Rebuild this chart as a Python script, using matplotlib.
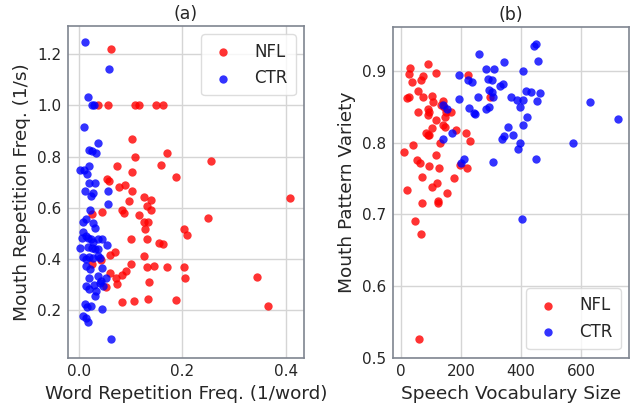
import matplotlib
matplotlib.use("Agg")
import matplotlib.pyplot as plt

# ---------------- data ----------------
# (a) Word repetition freq vs mouth repetition freq
a_nfl_x = [0.062, 0.037, 0.057, 0.108, 0.117, 0.149, 0.162, 0.102, 0.108, 0.170, 0.255, 0.073, 0.159,
           0.102, 0.188, 0.055, 0.059, 0.078, 0.090, 0.102, 0.126, 0.139, 0.097, 0.408, 0.132, 0.139,
           0.083, 0.088, 0.045, 0.026, 0.116, 0.250, 0.126, 0.134, 0.128, 0.203, 0.209, 0.100, 0.132,
           0.155, 0.163, 0.070, 0.061, 0.126, 0.043, 0.025, 0.100, 0.131, 0.146, 0.170, 0.204, 0.092,
           0.083, 0.061, 0.072, 0.206, 0.344, 0.074, 0.053, 0.135, 0.084, 0.106, 0.134, 0.188, 0.366]
a_nfl_y = [1.219, 1.0, 1.0, 1.0, 1.0, 1.0, 1.0, 0.868, 0.799, 0.813, 0.783, 0.764, 0.768,
           0.742, 0.721, 0.714, 0.705, 0.683, 0.688, 0.666, 0.643, 0.631, 0.625, 0.638, 0.607, 0.592,
           0.592, 0.582, 0.585, 0.575, 0.571, 0.562, 0.543, 0.545, 0.516, 0.516, 0.493, 0.477, 0.477,
           0.462, 0.458, 0.428, 0.416, 0.412, 0.397, 0.380, 0.380, 0.371, 0.373, 0.371, 0.371, 0.352,
           0.337, 0.347, 0.326, 0.325, 0.332, 0.302, 0.293, 0.312, 0.234, 0.236, 0.243, 0.240, 0.217]

a_ctr_x = [0.012, 0.059, 0.017, 0.025, 0.029, 0.010, 0.037, 0.020, 0.025, 0.034, 0.020, 0.003, 0.010,
           0.016, 0.020, 0.031, 0.012, 0.028, 0.023, 0.057, 0.056, 0.021, 0.008, 0.014, 0.028, 0.031,
           0.008, 0.014, 0.007, 0.018, 0.028, 0.044, 0.024, 0.036, 0.002, 0.018, 0.031, 0.055, 0.025,
           0.036, 0.008, 0.020, 0.037, 0.040, 0.014, 0.028, 0.013, 0.022, 0.045, 0.020, 0.037, 0.052,
           0.042, 0.014, 0.030, 0.040, 0.046, 0.020, 0.034, 0.032, 0.011, 0.024, 0.044, 0.016, 0.008,
           0.014, 0.018, 0.062]
a_ctr_y = [1.248, 1.141, 1.033, 1.0, 1.0, 0.916, 0.855, 0.825, 0.822, 0.816, 0.764, 0.747, 0.747,
           0.734, 0.699, 0.699, 0.666, 0.660, 0.647, 0.665, 0.617, 0.592, 0.546, 0.555, 0.540, 0.520,
           0.507, 0.490, 0.481, 0.484, 0.468, 0.477, 0.477, 0.477, 0.442, 0.447, 0.438, 0.454, 0.445,
           0.440, 0.410, 0.410, 0.412, 0.405, 0.400, 0.405, 0.373, 0.363, 0.367, 0.328, 0.334, 0.328,
           0.314, 0.295, 0.298, 0.305, 0.296, 0.282, 0.275, 0.256, 0.223, 0.217, 0.204, 0.214, 0.178,
           0.171, 0.154, 0.087]

# (b) Speech vocabulary size vs mouth pattern variety
b_nfl_x = [89, 30, 27, 74, 66, 115, 38, 224, 56, 27, 21, 74, 104, 108, 141, 132, 297, 58, 91, 94, 89,
           144, 150, 167, 147, 117, 141, 147, 102, 183, 82, 91, 94, 215, 230, 130, 41, 10, 52, 63, 115,
           94, 125, 197, 219, 69, 178, 119, 102, 19, 154, 71, 122, 124, 48, 65, 61]
b_nfl_y = [0.910, 0.904, 0.896, 0.893, 0.888, 0.897, 0.885, 0.894, 0.872, 0.864, 0.862, 0.864, 0.865,
           0.857, 0.858, 0.852, 0.863, 0.842, 0.847, 0.842, 0.838, 0.849, 0.842, 0.842, 0.835, 0.832,
           0.825, 0.822, 0.820, 0.818, 0.813, 0.811, 0.810, 0.813, 0.802, 0.800, 0.796, 0.787, 0.776,
           0.772, 0.782, 0.767, 0.764, 0.769, 0.764, 0.752, 0.751, 0.744, 0.738, 0.734, 0.729, 0.716,
           0.718, 0.715, 0.690, 0.673, 0.526]

b_ctr_x = [449, 443, 259, 455, 343, 283, 311, 408, 194, 224, 238, 289, 302, 330, 341, 292, 302, 415,
           433, 464, 255, 194, 305, 365, 388, 408, 397, 452, 630, 141, 154, 227, 283, 294, 243, 247,
           419, 722, 408, 355, 169, 336, 344, 372, 139, 397, 391, 572, 210, 200, 305, 450, 402]
b_ctr_y = [0.937, 0.935, 0.923, 0.914, 0.912, 0.903, 0.902, 0.900, 0.894, 0.888, 0.885, 0.889, 0.888,
           0.879, 0.882, 0.874, 0.871, 0.872, 0.871, 0.869, 0.864, 0.861, 0.864, 0.864, 0.859, 0.860,
           0.850, 0.858, 0.856, 0.853, 0.847, 0.848, 0.847, 0.850, 0.841, 0.840, 0.835, 0.833, 0.825,
           0.822, 0.813, 0.805, 0.809, 0.810, 0.805, 0.800, 0.791, 0.800, 0.777, 0.771, 0.773, 0.777,
           0.694]

a_xticks = [0.0, 0.2, 0.4]
a_yticks = [0.2, 0.4, 0.6, 0.8, 1.0, 1.2]
b_xticks = [0, 200, 400, 600]
b_yticks = [0.5, 0.6, 0.7, 0.8, 0.9]

# ---------------- style ----------------
TXT = "#262626"
plt.rcParams.update({
    "font.family": "DejaVu Sans",
    "text.color": TXT,
    "axes.labelcolor": TXT,
    "xtick.color": TXT,
    "ytick.color": TXT,
})

fig = plt.figure(figsize=(6.35, 4.07), dpi=100)
W, H = 635.0, 407.0
axa = fig.add_axes([68 / W, 1 - 357.5 / H, 236 / W, 331.5 / H])
axb = fig.add_axes([393 / W, 1 - 357.5 / H, 236 / W, 331 / H])

RED = (1.0, 0.0, 0.0)
BLUE = (0.0, 0.0, 1.0)

def style(ax):
    ax.set_facecolor("white")
    ax.grid(True, color="#d5d5d5", linewidth=1.0)
    ax.set_axisbelow(True)
    for s in ax.spines.values():
        s.set_color("#7f8590")
        s.set_linewidth(1.2)
    ax.tick_params(axis="both", which="both", length=0, labelsize=11, pad=5)

for ax in (axa, axb):
    style(ax)

leg_kw = dict(fontsize=12, frameon=True, borderpad=0.5, handlelength=1.6,
              handletextpad=1.05, borderaxespad=0.5)

axa.scatter(a_nfl_x, a_nfl_y, s=36, color=RED, alpha=0.8, linewidths=0, label="NFL", zorder=2)
axa.scatter(a_ctr_x, a_ctr_y, s=36, color=BLUE, alpha=0.8, linewidths=0, label="CTR", zorder=2)
axa.set_xlim(-0.021, 0.435)
axa.set_ylim(0.016, 1.31)
axa.set_xticks(a_xticks)
axa.set_xticklabels([f"{v:.1f}" for v in a_xticks])
axa.set_yticks(a_yticks)
axa.set_yticklabels([f"{v:.1f}" for v in a_yticks])
axa.set_xlabel("Word Repetition Freq. (1/word)", fontsize=13.3)
axa.set_ylabel("Mouth Repetition Freq. (1/s)", fontsize=13.3)
axa.set_title("(a)", fontsize=12.5, pad=5)
la = axa.legend(loc="upper right", **leg_kw)

axb.scatter(b_nfl_x, b_nfl_y, s=36, color=RED, alpha=0.8, linewidths=0, label="NFL", zorder=2)
axb.scatter(b_ctr_x, b_ctr_y, s=36, color=BLUE, alpha=0.8, linewidths=0, label="CTR", zorder=2)
axb.set_xlim(-27, 760)
axb.set_ylim(0.5, 0.962)
axb.set_xticks(b_xticks)
axb.set_yticks(b_yticks)
axb.set_yticklabels([f"{v:.1f}" for v in b_yticks])
axb.set_xlabel("Speech Vocabulary Size", fontsize=13.3)
axb.set_ylabel("Mouth Pattern Variety", fontsize=13.3)
axb.set_title("(b)", fontsize=12.5, pad=5)
lb = axb.legend(loc="lower right", **leg_kw)

for lg in (la, lb):
    lg.get_frame().set_edgecolor("#d5d5d5")
    lg.get_frame().set_linewidth(1.0)

fig.savefig("out.png", dpi=100)
